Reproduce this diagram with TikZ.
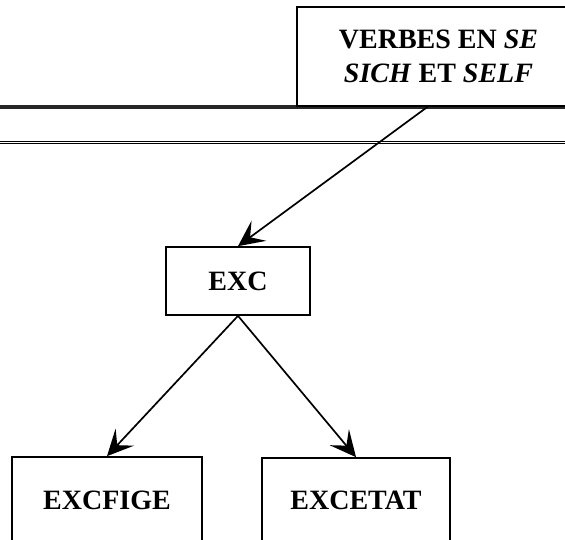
\documentclass[tikz,border=0pt]{standalone}
\usepackage{fontspec}
\setmainfont{Liberation Serif}
\usetikzlibrary{arrows.meta,positioning}
\tikzset{
>={Stealth[length=26pt,width=25pt,inset=11pt]},
  boite/.style={
    rectangle,
    draw=black, line width=1.7pt,
    fill=white,
    font=\bfseries\fontsize{28}{34}\selectfont,
    align=center,
    inner sep=0pt},
  fleche/.style={draw, ->, line width=1.7pt},
  trait/.style={draw=black!85, line width=3.5pt},
  filet/.style={draw, double, line width=1pt, double distance=1pt},
}

\begin{document}
\begin{tikzpicture}[x=1pt,y=-1pt]
    \useasboundingbox (0,0) rectangle (565,539);
    \clip (0,0) rectangle (565,539);
%   les deux traits horizontaux
    \draw[trait] (0,107) -- (565,107);
    \draw[filet] (0,142.5) -- (565,142.5);
%   les boites
    \node[boite, minimum width=283pt, minimum height=99pt] (verbes) at (438.5,56.5)
        {VERBES EN \textit{SE}\\\textit{SICH} ET \textit{SELF}};
    \node[boite, minimum width=144pt, minimum height=68pt] (exc) at (238,281) {EXC};
    \node[boite, minimum width=190pt, minimum height=86pt] (excfige) at (107,500) {EXCFIGE};
    \node[boite, minimum width=188pt, minimum height=85pt] (excetat) at (356,500.5) {EXCETAT};
%   les fleches
    \draw[fleche] ([xshift=-11pt]verbes.south) -- (exc.north);
    \draw[fleche] (exc.south) -- (excfige.north);
    \draw[fleche] (exc.south) -- (excetat.north);
\end{tikzpicture}
\end{document}
